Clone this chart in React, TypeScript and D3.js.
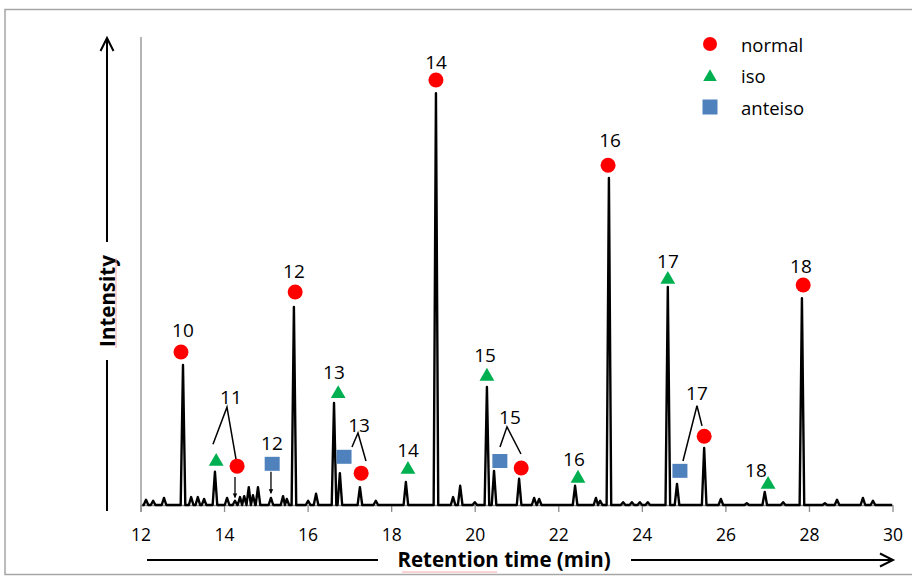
import React from "react";
import * as d3 from "d3";

const W = 912;
const H = 576;

// Chromatogram peaks (retention time in min, relative intensity)
const peakTimes = [
  12.12, 12.29, 12.55, 13.005, 13.2, 13.36, 13.51, 13.77, 14.06, 14.25, 14.37, 14.47, 14.58, 14.68, 14.8,
  15.11, 15.4, 15.49, 15.66, 16.0, 16.19, 16.62, 16.76, 17.24, 17.62, 18.34, 19.06, 19.47, 19.64, 19.99,
  20.28, 20.45, 21.05, 21.41, 21.53, 22.39, 22.89, 22.99, 23.2, 23.54, 23.75, 23.94, 24.13, 24.61, 24.83,
  25.48, 25.88, 26.5, 26.93, 27.37, 27.82, 28.37, 28.66, 29.28, 29.52,
];
const peakHeights = [
  1.1, 0.9, 1.5, 29.9, 1.7, 1.7, 1.3, 7.1, 1.5, 0.9, 1.7, 1.9, 3.8, 2.1, 3.8,
  1.5, 1.9, 1.3, 42.3, 0.9, 2.4, 21.8, 6.8, 3.8, 0.9, 4.9, 88.0, 1.7, 4.1, 0.6,
  25.2, 7.3, 5.6, 1.5, 1.3, 4.1, 1.5, 0.9, 69.9, 0.6, 0.6, 0.6, 0.6, 46.6, 4.5,
  12.2, 1.3, 0.4, 2.8, 0.6, 44.2, 0.4, 1.1, 1.5, 0.9,
];

// Marker series
const normalTimes = [12.957, 14.3, 15.69, 17.27, 19.06, 21.1, 23.18, 25.48, 27.85];
const normalValues = [32.7, 8.3, 45.5, 6.8, 90.8, 7.9, 72.6, 14.7, 47.0];
const isoTimes = [13.8, 16.72, 18.39, 20.28, 22.46, 24.61, 27.01];
const isoValues = [9.6, 24.1, 7.9, 27.8, 6.0, 48.5, 4.7];
const anteisoTimes = [15.14, 16.86, 20.59, 24.9];
const anteisoValues = [8.8, 10.3, 9.4, 7.3];

// Carbon-number labels
const labelTexts = ["10", "11", "12", "12", "13", "13", "14", "14", "15", "15", "16", "16", "17", "17", "18", "18"];
const labelTimes = [13.005, 14.154, 15.662, 15.135, 16.619, 17.218, 18.391, 19.061, 20.234, 20.832, 22.364, 23.226, 24.614, 25.308, 26.72, 27.797];
const labelValues = [37.4, 23.1, 50.0, 13.2, 28.4, 17.1, 11.8, 94.7, 32.1, 18.8, 9.8, 78.0, 52.2, 23.9, 7.5, 51.1];

// V-shaped connectors (apex, left end, right end)
const connApexT = [14.058, 17.194, 20.76, 25.308];
const connApexV = [20.9, 15.4, 16.7, 21.2];
const connLeftT = [13.723, 17.05, 20.593, 24.973];
const connLeftV = [13.0, 12.4, 12.4, 9.4];
const connRightT = [14.274, 17.385, 21.095, 25.428];
const connRightV = [9.8, 9.4, 10.9, 16.9];

// Down arrows pointing to small peaks
const arrowTimes = [14.25, 15.111];
const arrowFromValues = [6.0, 7.1];
const arrowToValues = [1.6, 2.5];

const xTicks = [12, 14, 16, 18, 20, 22, 24, 26, 28, 30];
const legendItems = ["normal", "iso", "anteiso"];

const RED = "#FF0000";
const GREEN = "#00B050";
const BLUE = "#4F81BD";
const GRAY = "#8C8C8C";
const FONT = "'Open Sans', 'Liberation Sans', sans-serif";

export default function App() {
  const x = d3.scaleLinear().domain([12, 30]).range([141, 893]);
  const y = d3.scaleLinear().domain([0, 100]).range([505, 37]);

  const halfW = 0.055;
  const order = d3.range(peakTimes.length).sort((a, b) => peakTimes[a] - peakTimes[b]);
  const pts: [number, number][] = [[12.03, 0]];
  order.forEach((idx, k) => {
    const t = peakTimes[idx];
    const prev = k > 0 ? peakTimes[order[k - 1]] : -Infinity;
    const next = k < order.length - 1 ? peakTimes[order[k + 1]] : Infinity;
    const l = Math.max(t - halfW, (t + prev) / 2);
    const r = Math.min(t + halfW, (t + next) / 2);
    pts.push([l, 0], [t, peakHeights[idx]], [r, 0]);
  });
  pts.push([29.98, 0]);
  const line = d3
    .line<[number, number]>()
    .x((d) => x(d[0]))
    .y((d) => y(d[1]));

  const tri = d3.symbol().type(d3.symbolTriangle).size(95)();

  const base = y(0);

  return (
    <svg
      width={W}
      height={H}
      style={{ position: "absolute", left: 0, top: 0, background: "#fff" }}
      fontFamily={FONT}
    >
      <defs>
        <marker id="ah" viewBox="0 0 10 10" refX="9" refY="5" markerWidth="4.5" markerHeight="6" orient="auto" markerUnits="userSpaceOnUse">
          <path d="M0,0 L10,5 L0,10 z" fill="#000" />
        </marker>
      </defs>
      <rect x={0} y={0} width={W} height={H} fill="#fff" />
      <rect x={5} y={9.5} width={920} height={565} fill="none" stroke="#A6A6A6" strokeWidth={1.5} />

      {/* y axis line */}
      <line x1={x(12)} x2={x(12)} y1={y(100)} y2={base + 7} stroke={GRAY} strokeWidth={1.3} />
      {/* x axis */}
      <line x1={x(12)} x2={x(30)} y1={base + 0.5} y2={base + 0.5} stroke={GRAY} strokeWidth={1.3} />
      {xTicks.map((t) => (
        <g key={t}>
          <line x1={x(t)} x2={x(t)} y1={base} y2={base + 7} stroke={GRAY} strokeWidth={1.3} />
          <text x={x(t)} y={base + 29} textAnchor="middle" dominantBaseline="central" fontSize={17.5} fill="#000">
            {t}
          </text>
        </g>
      ))}

      {/* chromatogram trace */}
      <path d={line(pts) || ""} fill="none" stroke="#000" strokeWidth={2.4} strokeLinejoin="round" />

      {/* connectors */}
      {connApexT.map((t, i) => (
        <polyline
          key={"c" + i}
          points={`${x(connLeftT[i])},${y(connLeftV[i])} ${x(t)},${y(connApexV[i])} ${x(connRightT[i])},${y(connRightV[i])}`}
          fill="none"
          stroke="#000"
          strokeWidth={1.5}
        />
      ))}
      {arrowTimes.map((t, i) => (
        <line
          key={"a" + i}
          x1={x(t)}
          x2={x(t)}
          y1={y(arrowFromValues[i])}
          y2={y(arrowToValues[i])}
          stroke="#000"
          strokeWidth={1.3}
          markerEnd="url(#ah)"
        />
      ))}

      {/* markers */}
      {normalTimes.map((t, i) => (
        <circle key={"n" + i} cx={x(t)} cy={y(normalValues[i])} r={7.5} fill={RED} />
      ))}
      {isoTimes.map((t, i) => (
        <path key={"i" + i} d={tri || ""} transform={`translate(${x(t)},${y(isoValues[i]) + 1.5})`} fill={GREEN} />
      ))}
      {anteisoTimes.map((t, i) => (
        <rect key={"s" + i} x={x(t) - 7.5} y={y(anteisoValues[i]) - 7} width={15} height={14} fill={BLUE} />
      ))}

      {/* labels */}
      {labelTexts.map((s, i) => (
        <text
          key={"l" + i}
          x={x(labelTimes[i])}
          y={y(labelValues[i])}
          textAnchor="middle"
          dominantBaseline="central"
          fontSize={19}
          fill="#000"
        >
          {s}
        </text>
      ))}

      {/* legend */}
      {legendItems.map((s, i) => {
        const cy = 44 + i * 31.5;
        return (
          <g key={s}>
            {i === 0 && <circle cx={710} cy={cy} r={7} fill={RED} />}
            {i === 1 && <path d={d3.symbol().type(d3.symbolTriangle).size(80)() || ""} transform={`translate(710,${cy + 1.5})`} fill={GREEN} />}
            {i === 2 && <rect x={702.5} y={cy - 7.5} width={15} height={15} fill={BLUE} />}
            <text x={741} y={cy} dominantBaseline="central" fontSize={18.5} fill="#000">
              {s}
            </text>
          </g>
        );
      })}

      {/* Intensity arrow */}
      <line x1={107} x2={107} y1={511} y2={360} stroke="#000" strokeWidth={2} />
      <line x1={107} x2={107} y1={242} y2={38} stroke="#000" strokeWidth={2} />
      <polyline points="100.5,51 107,38 113.5,51" fill="none" stroke="#000" strokeWidth={2} />
      <text
        transform="translate(107,301) rotate(-90)"
        textAnchor="middle"
        dominantBaseline="central"
        fontSize={20.5}
        fontWeight="bold"
        fill="#000"
      >
        Intensity
      </text>
      <line x1={116} x2={116} y1={258} y2={348} stroke="#F4A6A6" strokeWidth={1} />

      {/* Retention time arrow */}
      <line x1={147} x2={378} y1={560} y2={560} stroke="#000" strokeWidth={2} />
      <line x1={631} x2={893} y1={560} y2={560} stroke="#000" strokeWidth={2} />
      <polyline points="880,553.5 893,560 880,566.5" fill="none" stroke="#000" strokeWidth={2} />
      <text x={504} y={559} textAnchor="middle" dominantBaseline="central" fontSize={20.5} fontWeight="bold" fill="#000">
        Retention time (min)
      </text>
      <line x1={402} x2={497} y1={572} y2={572} stroke="#F4A6A6" strokeWidth={1} />
    </svg>
  );
}
